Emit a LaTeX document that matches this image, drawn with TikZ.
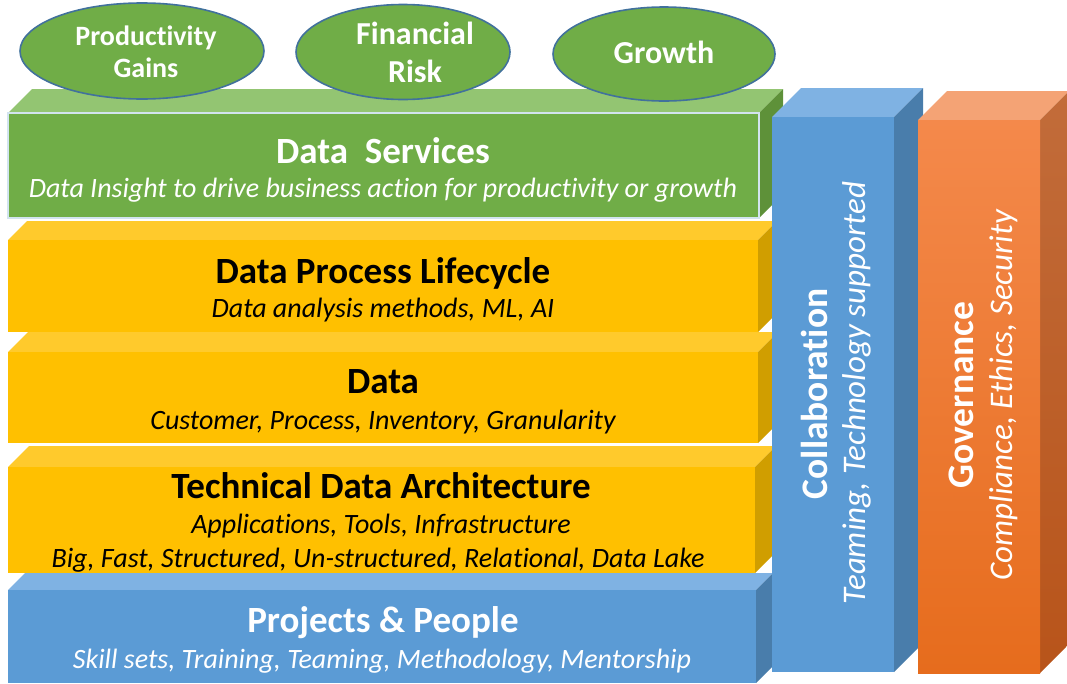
\documentclass[tikz,border=0pt]{standalone}
\usepackage{fontspec}
\setmainfont{Carlito}[Ligatures=NoCommon]
\definecolor{gfront}{HTML}{70AD47}
\definecolor{gtop}{HTML}{93C572}
\definecolor{gside}{HTML}{5E9139}
\definecolor{yfront}{HTML}{FFC000}
\definecolor{ytop}{HTML}{FFCA2C}
\definecolor{yside}{HTML}{D09E00}
\definecolor{bfront}{HTML}{5B9BD5}
\definecolor{btop}{HTML}{7FB2E3}
\definecolor{bside}{HTML}{497DAB}
\definecolor{ofronttop}{HTML}{F4894B}
\definecolor{ofrontbot}{HTML}{E66C1D}
\definecolor{otop}{HTML}{F4A375}
\definecolor{osidetop}{HTML}{C26C3A}
\definecolor{osidebot}{HTML}{B8541A}
\definecolor{ellborder}{HTML}{41719C}
\definecolor{gborder}{HTML}{D2E4EF}
\newcommand\mycuboid[8]{%
  \fill[#7] (#1,#2) -- (#1+#5,#2-#5) -- (#3+#5,#2-#5) -- (#3,#2) -- cycle;
  \fill[#8] (#3,#2) -- (#3+#5,#2-#5) -- (#3+#5,#4-#5) -- (#3,#4) -- cycle;
  \fill[#6] (#1,#2) rectangle (#3,#4);
}
\tikzset{
  title/.style={font=\bfseries\fontsize{37}{40}\selectfont, anchor=base, inner sep=0pt},
  sub/.style={font=\itshape\fontsize{28}{32}\selectfont, anchor=base, inner sep=0pt},
  vtitle/.style={font=\bfseries\fontsize{37.5}{40}\selectfont, anchor=base, inner sep=0pt, rotate=90, text=white},
  vsub/.style={font=\itshape\fontsize{33}{36}\selectfont, anchor=base, inner sep=0pt, rotate=90, text=white},
  oval/.style={ellipse, fill=gfront, draw=ellborder, line width=1.6pt, inner sep=0pt},
  ovaltext/.style={font=\bfseries\fontsize{#1}{#1}\selectfont, text=white, anchor=base, inner sep=0pt},
}
\usetikzlibrary{shapes.geometric}
\begin{document}
\begin{tikzpicture}[x=1pt,y=-1pt]
\useasboundingbox (0,0) rectangle (1067,683);
% layers
\mycuboid{8}{590}{756}{683}{17}{bfront}{btop}{bside}
\mycuboid{8}{467}{755}{573}{21}{yfront}{ytop}{yside}
\mycuboid{8}{352}{758}{443}{20}{yfront}{ytop}{yside}
\mycuboid{8}{240}{758}{332}{19}{yfront}{ytop}{yside}
\mycuboid{8}{113}{759}{218}{24}{gfront}{gtop}{gside}
\draw[gborder, line width=1.5pt] (8,113) rectangle (759,218);
% ellipses
\node[oval, minimum width=244pt, minimum height=96pt] (e1) at (142,51) {};
\node[oval, minimum width=214pt, minimum height=95pt] (e2) at (403,52) {};
\node[oval, minimum width=222pt, minimum height=94pt] (e3) at (664,54) {};
\node[ovaltext=28] (t1a) at (146,45) {Productivity};
\node[ovaltext=28] (t1b) at (146,77) {Gains};
\node[ovaltext=32] (t2a) at (415,44) {Financial};
\node[ovaltext=32] (t2b) at (415,82) {Risk};
\node[ovaltext=32] (t3) at (664,63) {Growth};
% pillars
\fill[btop] (772,117) -- (801,88) -- (923,88) -- (894,117) -- cycle;
\fill[bside] (894,117) -- (923,88) -- (923,643) -- (894,672) -- cycle;
\fill[bfront] (772,117) rectangle (894,672);
\fill[otop] (918,120) -- (947,91) -- (1069,91) -- (1040,120) -- cycle;
\shade[top color=osidetop, bottom color=osidebot] (1040,120) -- (1069,91) -- (1069,644) -- (1040,673) -- cycle;
\shade[top color=ofronttop, bottom color=ofrontbot] (918,120) rectangle (1040,673);
% texts
\node[title, text=white] (ds) at (383,163) {Data\ \ Services};
\node[sub, text=white] (dss) at (383,197) {Data Insight to drive business action for productivity or growth};
\node[title] (dp) at (383,283) {Data Process Lifecycle};
\node[sub] (dps) at (383,317) {Data analysis methods, ML, AI};
\node[title] (da) at (383,393) {Data};
\node[sub] (das) at (383,429) {Customer, Process, Inventory, Granularity};
\node[title] (ta) at (381,498) {Technical Data Architecture};
\node[sub] (tas1) at (381,533) {Applications, Tools, Infrastructure};
\node[sub] (tas2) at (378,567) {Big, Fast, Structured, Un-structured, Relational, Data Lake};
\node[title, text=white] (pp) at (383,632) {Projects \& People};
\node[sub, text=white] (pps) at (382,668) {Skill sets, Training, Teaming, Methodology, Mentorship};
\node[vtitle] (co) at (827,394) {Collaboration};
\node[vsub] (cos) at (865,393) {Teaming, Technology supported};
\node[vtitle] (go) at (973,395) {Governance};
\node[vsub] (gos) at (1012,395) {Compliance, Ethics, Security};
\end{tikzpicture}
\end{document}
